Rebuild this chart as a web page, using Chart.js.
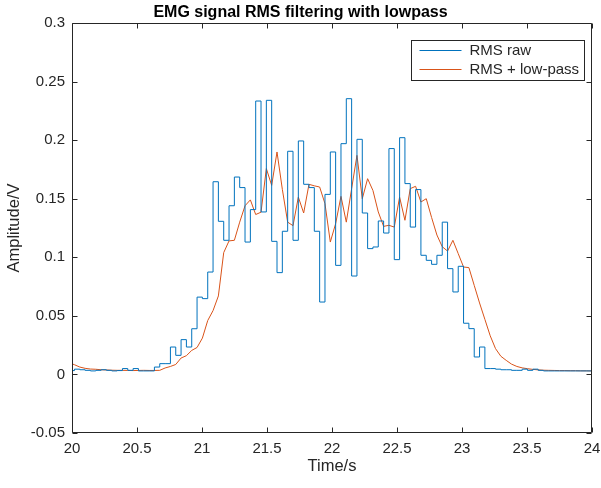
<!DOCTYPE html>
<html>
<head>
<meta charset="utf-8">
<script src="https://cdn.jsdelivr.net/npm/chart.js@4.4.0/dist/chart.umd.min.js"></script>
<style>
  html, body { margin: 0; padding: 0; background: #fff; }
  #wrap { width: 601px; height: 488px; }
</style>
</head>
<body>
<div id="wrap"><canvas id="emg_chart" width="601" height="488"></canvas></div>
<script>
// RMS windows: start time of the first window and window length (s)
const startTime = 19.978;
const windowStep = 0.041;

// RMS of each window (V)
const rmsRaw = [
    0.0033, 0.0033, 0.0045, 0.004, 0.0035, 0.003, 0.0035, 0.004, 0.0035, 0.003,
    0.0033, 0.005, 0.0035, 0.005, 0.003, 0.003, 0.003, 0.0063, 0.0092, 0.0092,
    0.0234, 0.0163, 0.0297, 0.0234, 0.039, 0.066, 0.0647, 0.0874, 0.1645, 0.1307,
    0.1145, 0.144, 0.1685, 0.1595, 0.113, 0.1407, 0.2334, 0.1387, 0.234, 0.1136,
    0.0869, 0.1222, 0.1905, 0.1145, 0.1993, 0.1623, 0.1595, 0.1222, 0.0618, 0.1537,
    0.1899, 0.0931, 0.197, 0.2354, 0.084, 0.2007, 0.1378, 0.1074, 0.1088, 0.131,
    0.1207, 0.1928, 0.098, 0.2021, 0.1629, 0.1258, 0.1578, 0.1017, 0.0974, 0.094,
    0.1017, 0.130, 0.0903, 0.0704, 0.0923, 0.0437, 0.0391, 0.0149, 0.0234, 0.005,
    0.005, 0.0045, 0.004, 0.004, 0.0035, 0.0035, 0.0045, 0.0035, 0.0045, 0.0035,
    0.003, 0.003, 0.003, 0.003, 0.003, 0.003, 0.003, 0.003, 0.003
];

// same RMS after the low-pass filter (V)
const rmsLowpass = [
    0.0098, 0.0083, 0.0063, 0.0052, 0.0046, 0.0044, 0.004, 0.0038, 0.0036, 0.0035,
    0.0035, 0.0034, 0.0033, 0.0034, 0.0035, 0.0034, 0.0034, 0.0035, 0.0055, 0.0068,
    0.0085, 0.014, 0.016, 0.0205, 0.023, 0.031, 0.046, 0.0545, 0.067, 0.104,
    0.114, 0.1145, 0.130, 0.144, 0.149, 0.1365, 0.1385, 0.1757, 0.1614, 0.1899,
    0.158, 0.130, 0.127, 0.1514, 0.1378, 0.1623, 0.161, 0.160, 0.1458, 0.113,
    0.1287, 0.152, 0.130, 0.1586, 0.187, 0.150, 0.1671, 0.157, 0.1387, 0.1264,
    0.1273, 0.1258, 0.1514, 0.1316, 0.1586, 0.1606, 0.1472, 0.150, 0.134, 0.119,
    0.109, 0.1053, 0.1145, 0.1031, 0.0917, 0.0912, 0.076, 0.061, 0.047, 0.033,
    0.022, 0.0155, 0.012, 0.0088, 0.0068, 0.0056, 0.0049, 0.0043, 0.0039, 0.0036,
    0.0035, 0.0034, 0.0033, 0.0033, 0.0032, 0.0032, 0.0031, 0.0031, 0.003
];

const xTicks = [20, 20.5, 21, 21.5, 22, 22.5, 23, 23.5, 24];
const yTicks = [-0.05, 0, 0.05, 0.1, 0.15, 0.2, 0.25, 0.3];

const fontFamily = '"Liberation Sans", Arial, Helvetica, sans-serif';
const axisColor = '#262626';

/* build x/y points; the raw stairs need one more point to close the last step */
const rawPoints = rmsRaw.map((v, i) => ({ x: startTime + i * windowStep, y: v }));
rawPoints.push({ x: startTime + rmsRaw.length * windowStep, y: rmsRaw[rmsRaw.length - 1] });
const lowpassPoints = rmsLowpass.map((v, i) => ({ x: startTime + i * windowStep, y: v }));

const fmt = v => String(Number(v.toFixed(2)));

/* MATLAB style box with inward ticks */
const axesBox = {
    id: 'axesBox',
    afterDraw(chart) {
        const { ctx, chartArea, scales } = chart;
        const l = Math.round(chartArea.left) + 0.5;
        const r = Math.round(chartArea.right) - 0.5;
        const t = Math.round(chartArea.top) + 0.5;
        const b = Math.round(chartArea.bottom) - 0.5;
        const len = 5;
        ctx.save();
        ctx.strokeStyle = axisColor;
        ctx.lineWidth = 1;
        ctx.beginPath();
        ctx.rect(l, t, r - l, b - t);
        xTicks.forEach(v => {
            const px = Math.round(scales.x.getPixelForValue(v)) + 0.5;
            ctx.moveTo(px, b); ctx.lineTo(px, b - len);
            ctx.moveTo(px, t); ctx.lineTo(px, t + len);
        });
        yTicks.forEach(v => {
            const py = Math.round(scales.y.getPixelForValue(v)) + 0.5;
            ctx.moveTo(l, py); ctx.lineTo(l + len, py);
            ctx.moveTo(r, py); ctx.lineTo(r - len, py);
        });
        ctx.stroke();
        ctx.restore();
    }
};

/* legend drawn inside the axes, top right */
const insideLegend = {
    id: 'insideLegend',
    afterDraw(chart) {
        const { ctx, chartArea } = chart;
        const sets = chart.data.datasets;
        ctx.save();
        ctx.font = '15px ' + fontFamily;
        const textW = Math.max(...sets.map(d => ctx.measureText(d.label).width));
        const w = Math.round(8 + 42 + 8 + textW + 5);
        const h = 40;
        const x = Math.round(chartArea.right - 8 - w) + 0.5;
        const y = Math.round(chartArea.top + 17) + 0.5;
        ctx.fillStyle = '#fff';
        ctx.fillRect(x, y, w, h);
        ctx.strokeStyle = axisColor;
        ctx.lineWidth = 1;
        ctx.strokeRect(x, y, w, h);
        sets.forEach((d, i) => {
            const rowY = y + 10 + i * 19;
            ctx.strokeStyle = d.borderColor;
            ctx.beginPath();
            ctx.moveTo(x + 8, rowY);
            ctx.lineTo(x + 50, rowY);
            ctx.stroke();
            ctx.fillStyle = axisColor;
            ctx.textBaseline = 'middle';
            ctx.textAlign = 'left';
            ctx.fillText(d.label, x + 58, rowY);
        });
        ctx.restore();
    }
};

new Chart(document.getElementById('emg_chart'), {
    type: 'line',
    data: {
        datasets: [{
            label: 'RMS raw',
            data: rawPoints,
            stepped: 'after',
            borderColor: '#0072BD',
            borderWidth: 1,
            pointRadius: 0,
            fill: false
        }, {
            label: 'RMS + low-pass',
            data: lowpassPoints,
            borderColor: '#D95319',
            borderWidth: 1,
            pointRadius: 0,
            tension: 0,
            fill: false
        }]
    },
    options: {
        responsive: false,
        animation: false,
        layout: { padding: { left: 0, right: 0, top: 0, bottom: 0 } },
        plugins: {
            legend: { display: false },
            tooltip: { enabled: false },
            title: {
                display: true,
                text: 'EMG signal RMS filtering with lowpass',
                color: '#000',
                font: { family: fontFamily, size: 16, weight: 'bold' },
                padding: { top: 2.5, bottom: 1.3 }
            }
        },
        scales: {
            x: {
                type: 'linear',
                min: 20,
                max: 24,
                grid: { display: false, drawTicks: false },
                border: { display: false },
                afterBuildTicks: s => { s.ticks = xTicks.map(v => ({ value: v })); },
                afterFit: s => {
                    s.height = 55;
                    s.paddingRight = 9;
                    s.paddingLeft = 0;
                },
                ticks: {
                    color: axisColor,
                    padding: 7,
                    maxRotation: 0,
                    font: { family: fontFamily, size: 15 },
                    callback: v => fmt(v)
                },
                title: {
                    display: true,
                    text: 'Time/s',
                    color: axisColor,
                    font: { family: fontFamily, size: 16.5 },
                    padding: { top: 0, bottom: 12 }
                }
            },
            y: {
                min: -0.05,
                max: 0.3,
                grid: { display: false, drawTicks: false },
                border: { display: false },
                afterBuildTicks: s => { s.ticks = yTicks.map(v => ({ value: v })); },
                afterFit: s => { s.width = 72; },
                ticks: {
                    color: axisColor,
                    padding: 7,
                    font: { family: fontFamily, size: 15 },
                    callback: v => fmt(v)
                },
                title: {
                    display: true,
                    text: 'Amplitude/V',
                    color: axisColor,
                    font: { family: fontFamily, size: 16.5 },
                    padding: { top: 5, bottom: 0 }
                }
            }
        }
    },
    plugins: [axesBox, insideLegend]
});
</script>
</body>
</html>
